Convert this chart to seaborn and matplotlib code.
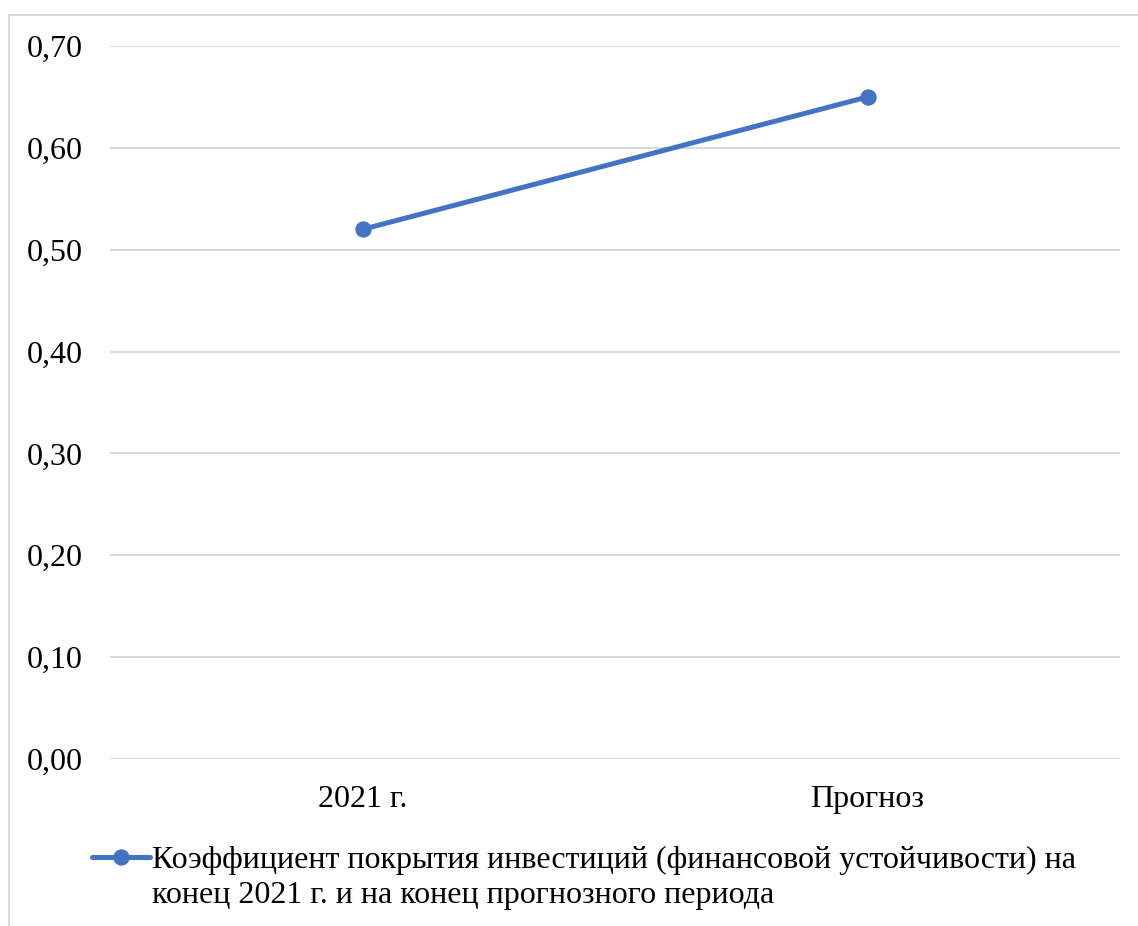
import pandas as pd
import matplotlib.pyplot as plt
import seaborn as sns
from matplotlib.ticker import FuncFormatter
from matplotlib.patches import Rectangle

# Data
periods = ['2021 г.', 'Прогноз']
values = [0.52, 0.65]
series_line1 = 'Коэффициент покрытия инвестиций (финансовой устойчивости) на'
series_line2 = 'конец 2021 г. и на конец прогнозного периода'

df = pd.DataFrame({'period': periods, 'value': values})

sns.set_theme(style="white")
plt.rcParams['font.family'] = ['Liberation Serif', 'DejaVu Serif']
plt.rcParams['text.color'] = 'black'

fig = plt.figure(figsize=(11.38, 9.26), dpi=100)
ax = fig.add_axes([0.0967, 0.1803, 0.8875, 0.77])

line_color = '#4472C4'
sns.lineplot(data=df, x='period', y='value', ax=ax, color=line_color, linewidth=3.6,
             marker='o', markersize=11, markeredgecolor=line_color, label=series_line1,
             sort=False)

ax.set_xlim(-0.5, 1.5)
ax.set_ylim(0, 0.70)
ax.set_yticks([i / 10 for i in range(8)])
ax.yaxis.set_major_formatter(FuncFormatter(lambda v, p: f'{v:.2f}'.replace('.', ',')))
ax.grid(axis='y', color='#D9D9D9', linewidth=1.5)
ax.set_axisbelow(True)
for s in ax.spines.values():
    s.set_visible(False)
ax.tick_params(axis='both', length=0, labelsize=23, labelcolor='black')
ax.tick_params(axis='y', pad=20)
ax.tick_params(axis='x', pad=19)
ax.set_xlabel('')
ax.set_ylabel('')

# Legend below the plot (label wraps onto a second line)
handles, labels = ax.get_legend_handles_labels()
ax.get_legend().remove()
fig.legend(handles, labels, loc='center left', bbox_to_anchor=(92 / 1138, 1 - 860 / 926),
           frameon=False, fontsize=23, handlelength=1.82, handletextpad=0.06,
           borderaxespad=0, borderpad=0)
fig.text(152 / 1138, 1 - 895 / 926, series_line2, fontsize=23, va='center', ha='left')

# Chart area border
fig.patches.append(Rectangle((9 / 1138, -0.1), 1.2, 1 - 15 / 926 + 0.1,
                             transform=fig.transFigure, fill=False,
                             edgecolor='#D9D9D9', linewidth=1.5))

fig.savefig('out.png', dpi=100)
